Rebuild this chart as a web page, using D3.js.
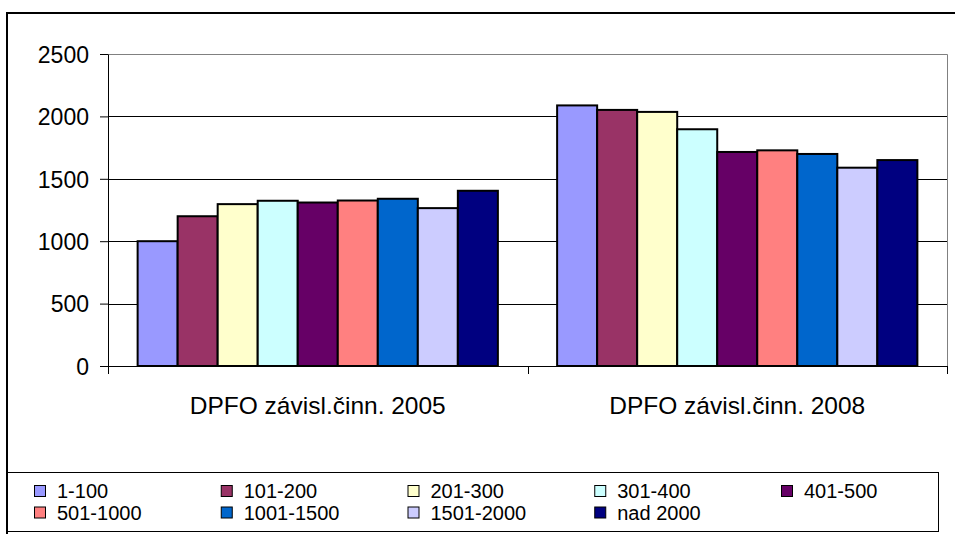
<!DOCTYPE html>
<html>
<head>
<meta charset="utf-8">
<script src="https://cdn.jsdelivr.net/npm/d3@7"></script>
<style>
  body { margin: 0; background: #fff; }
  text { font-family: "Liberation Sans", Arial, sans-serif; fill: #000; }
</style>
</head>
<body>
<div id="chart"></div>
<script>
// data
const categories = ["DPFO závisl.činn. 2005", "DPFO závisl.činn. 2008"]
const seriesNames = ["1-100", "101-200", "201-300", "301-400", "401-500",
  "501-1000", "1001-1500", "1501-2000", "nad 2000"]
const values2005 = [1000, 1200, 1297, 1324, 1310, 1326, 1340, 1265, 1404]
const values2008 = [2088, 2052, 2036, 1897, 1715, 1728, 1699, 1589, 1650]
const colors = ["#9999FF", "#993366", "#FFFFCC", "#CCFFFF", "#660066",
  "#FF8080", "#0066CC", "#CCCCFF", "#000080"]
const yTicks = [0, 500, 1000, 1500, 2000, 2500]

const W = 955, H = 534
const plot = {left: 108, right: 947, top: 54, bottom: 366}

const svg = d3.select("#chart").append("svg")
  .attr("width", W).attr("height", H)

// outer frame (runs off the right and bottom edge)
svg.append("path")
  .attr("d", `M7,${H + 5} V13 H${W + 5}`)
  .attr("fill", "none").attr("stroke", "#000").attr("stroke-width", 2)

const x0 = d3.scaleBand().domain(categories)
  .range([plot.left, plot.right]).paddingInner(0).paddingOuter(0)
const x1 = d3.scaleBand().domain(seriesNames)
  .range([0, x0.bandwidth()]).paddingInner(0).paddingOuter(0.74)
const y = d3.scaleLinear().domain([0, 2500]).range([plot.bottom, plot.top])

// gridlines
svg.append("g").selectAll("line")
  .data(yTicks.filter(d => d > 0 && d < 2500))
  .join("line")
    .attr("x1", plot.left).attr("x2", plot.right)
    .attr("y1", d => Math.round(y(d)) + 0.5).attr("y2", d => Math.round(y(d)) + 0.5)
    .attr("stroke", "#000")

// plot area border (top + right)
svg.append("path")
  .attr("d", `M${plot.left},${plot.top + 0.5} H${plot.right + 0.5} V${plot.bottom}`)
  .attr("fill", "none").attr("stroke", "#808080")

// bars
const data = categories.map((c, i) => ({
  cat: c,
  vals: seriesNames.map((s, j) => ({s, v: [values2005, values2008][i][j], color: colors[j]}))
}))
svg.append("g").selectAll("g")
  .data(data)
  .join("g")
    .attr("transform", d => `translate(${x0(d.cat)},0)`)
  .selectAll("rect")
  .data(d => d.vals)
  .join("rect")
    .attr("x", d => x1(d.s))
    .attr("y", d => y(d.v))
    .attr("width", x1.bandwidth())
    .attr("height", d => y(0) - y(d.v))
    .attr("fill", d => d.color)
    .attr("stroke", "#000")
    .attr("stroke-width", 2)

// y axis
const yAxis = svg.append("g")
  .attr("transform", `translate(${plot.left},0)`)
  .call(d3.axisLeft(y).tickValues(yTicks).tickFormat(d3.format("d"))
    .tickSize(8).tickPadding(11).tickSizeOuter(0))
yAxis.selectAll("text").style("font-size", "23px").attr("dy", "0.36em")
yAxis.selectAll("line, path").attr("stroke", "#000")

// x axis: labels at group centres, ticks at group boundaries
const xAxis = svg.append("g")
  .attr("transform", `translate(0,${plot.bottom})`)
  .call(d3.axisBottom(x0).tickSize(0).tickPadding(31).tickSizeOuter(0))
xAxis.selectAll("text").style("font-size", "24.5px")
xAxis.select(".domain").attr("stroke", "#000")
const bounds = [plot.left, ...categories.map(c => x0(c) + x0.bandwidth())]
xAxis.selectAll(".bound")
  .data(bounds)
  .join("line")
    .attr("class", "bound")
    .attr("x1", d => Math.round(d) + 0.5).attr("x2", d => Math.round(d) + 0.5)
    .attr("y1", 0).attr("y2", 8)
    .attr("stroke", "#000")

// legend
const legend = svg.append("g")
legend.append("rect")
  .attr("x", 7.5).attr("y", 472.5)
  .attr("width", 931).attr("height", 59)
  .attr("fill", "#fff").attr("stroke", "#000")

const colStep = 186.75
const items = legend.selectAll("g.item")
  .data(seriesNames)
  .join("g")
    .attr("class", "item")
    .attr("transform", (d, i) => `translate(${34 + (i % 5) * colStep},${491 + Math.floor(i / 5) * 21.5})`)
items.append("rect")
  .attr("x", 0.5).attr("y", -5.5)
  .attr("width", 11).attr("height", 11)
  .attr("fill", (d, i) => colors[i])
  .attr("stroke", "#000")
items.append("text")
  .attr("x", 23).attr("dy", "0.36em")
  .style("font-size", "20px")
  .text(d => d)
</script>
</body>
</html>
